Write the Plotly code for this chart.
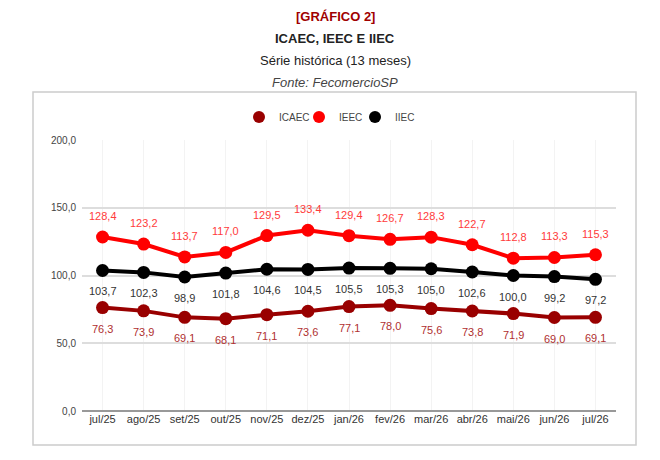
import plotly.graph_objects as go

months = ["jul/25", "ago/25", "set/25", "out/25", "nov/25", "dez/25", "jan/26",
          "fev/26", "mar/26", "abr/26", "mai/26", "jun/26", "jul/26"]
icaec = [76.3, 73.9, 69.1, 68.1, 71.1, 73.6, 77.1, 78.0, 75.6, 73.8, 71.9, 69.0, 69.1]
ieec = [128.4, 123.2, 113.7, 117.0, 129.5, 133.4, 129.4, 126.7, 128.3, 122.7, 112.8, 113.3, 115.3]
iiec = [103.7, 102.3, 98.9, 101.8, 104.6, 104.5, 105.5, 105.3, 105.0, 102.6, 100.0, 99.2, 97.2]
y_ticks = [0, 50, 100, 150, 200]

series = [
    ("ICAEC", icaec, "#990000", "#b03030", -21),
    ("IEEC", ieec, "#ff0000", "#ff3b3b", 21),
    ("IIEC", iiec, "#000000", "#333333", -21),
]
legend_px = [259, 319, 375]

FONT = "Liberation Sans, Arial, sans-serif"
fig = go.Figure()
annotations = []


def px(p):
    return (p - 82) / 534


def py(p):
    return (411 - p) / 271


for name, vals, col, lcol, shift in series:
    fig.add_trace(go.Scatter(x=months, y=vals, mode="lines+markers", name=name,
                             line=dict(color=col, width=4),
                             marker=dict(color=col, size=13),
                             showlegend=False, hoverinfo="skip"))

legend_layout = {}
for i, ((name, vals, col, lcol, shift), lx) in enumerate(zip(series, legend_px)):
    lname = "legend" if i == 0 else f"legend{i + 1}"
    fig.add_trace(go.Scatter(x=[None], y=[None], mode="markers", name=name,
                             marker=dict(color=col, size=12), legend=lname))
    legend_layout[lname] = dict(orientation="h", x=px(lx - 20), xanchor="left",
                                y=py(117), yanchor="middle",
                                font=dict(size=10, color="#444444"),
                                bgcolor="rgba(0,0,0,0)", borderwidth=0)
    for m, v in zip(months, vals):
        annotations.append(dict(x=m, y=v, xref="x", yref="y", yshift=shift,
                                text=f"{v:.1f}".replace(".", ","), showarrow=False,
                                font=dict(family=FONT, size=11, color=lcol)))

titles = [
    ("<b>[GRÁFICO 2]</b>", 16, "#a00000"),
    ("<b>ICAEC, IEEC E IIEC</b>", 38, "#222222"),
    ("Série histórica (13 meses)", 60, "#222222"),
    ("<i>Fonte: FecomercioSP</i>", 82, "#444444"),
]
for t, ypx, c in titles:
    annotations.append(dict(x=px(335), y=py(ypx), xref="paper", yref="paper",
                            text=t, showarrow=False, xanchor="center", yanchor="middle",
                            font=dict(family=FONT, size=13, color=c)))

fig.update_layout(
    width=660, height=460,
    margin=dict(l=74, r=52, t=132, b=57),
    paper_bgcolor="white", plot_bgcolor="white",
    separators=",.",
    font=dict(family=FONT, size=11, color="#333333"),
    annotations=annotations,
    showlegend=True,
    shapes=[dict(type="rect", xref="paper", yref="paper",
                 x0=px(33), x1=px(636), y0=py(445), y1=py(92),
                 line=dict(color="#cccccc", width=1.5),
                 fillcolor="rgba(0,0,0,0)", layer="below")],
    xaxis=dict(type="category", range=[-0.5, 12.5], showgrid=True,
               gridcolor="#f3f3f3", gridwidth=1, ticks="", showline=False,
               tickfont=dict(size=11, color="#333333"), fixedrange=True),
    yaxis=dict(range=[0, 200], tickvals=y_ticks, tickformat=".1f",
               showgrid=True, gridcolor="#dddddd", gridwidth=1.5,
               zeroline=True, zerolinecolor="#999999", zerolinewidth=1.5,
               ticks="", ticklabelstandoff=5,
               tickfont=dict(size=10, color="#444444"), fixedrange=True),
    **legend_layout,
)

fig.write_html("out.html")
